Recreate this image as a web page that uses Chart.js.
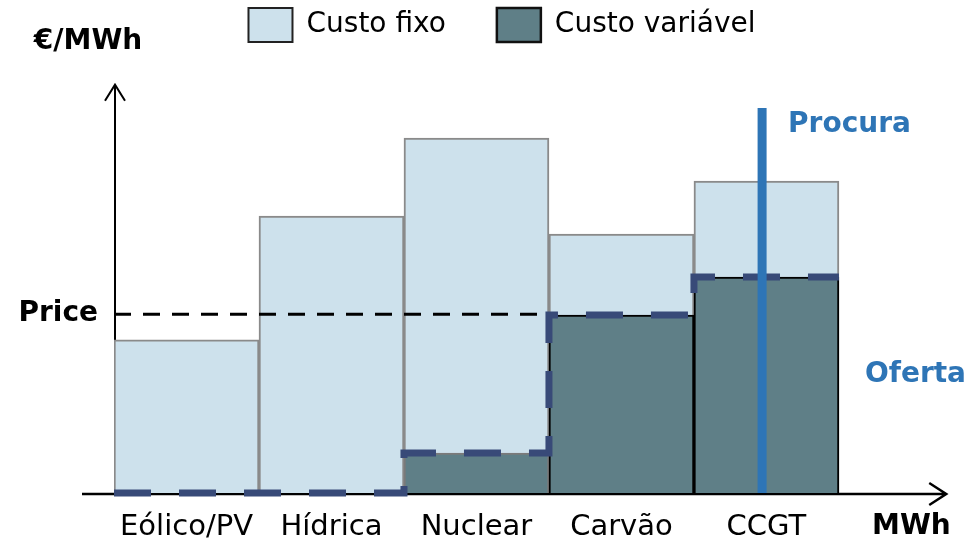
<!DOCTYPE html>
<html lang="pt">
<head>
<meta charset="UTF-8">
<title>Custo fixo e custo variável</title>
<script src="https://cdn.jsdelivr.net/npm/chart.js"></script>
<style>
  html, body { margin: 0; padding: 0; background: #fff; }
  #wrap { width: 979px; height: 546px; }
</style>
</head>
<body>
<div id="wrap"><canvas id="myChart"></canvas></div>
<script>
// values (€/MWh, arbitrary units)
const technologies = ['Eólico/PV', 'Hídrica', 'Nuclear', 'Carvão', 'CCGT'];
const fixedCost = [37.5, 67.8, 86.9, 63.4, 76.4];
const variableCost = [0, 0, 9.8, 43.6, 52.9];
const price = 43.8;
const demandAt = 4.47;      // MWh
const demandTop = 94.3;
const xUnitLabel = 'MWh';
const yUnitLabel = '€/MWh';

const fixedPoints = fixedCost.map((v, i) => ({ x: i + 0.5, y: v }));
const variablePoints = variableCost.map((v, i) => ({ x: i + 0.5, y: v })).filter(p => p.y > 0);

// step supply curve from the variable costs
const supplyPoints = [];
variableCost.forEach((v, i) => {
    supplyPoints.push({ x: i, y: v });
    supplyPoints.push({ x: i + 1, y: v });
});

const tickValues = technologies.map((t, i) => i + 0.5).concat([technologies.length + 0.5]);
const tickLabels = technologies.concat([xUnitLabel]);

const font = 'DejaVu Sans';

const extras = {
    id: 'extras',
    beforeDatasetsDraw(chart) {
        const ctx = chart.ctx;
        const xs = chart.scales.x, ys = chart.scales.y;
        const x0 = xs.getPixelForValue(0);
        const y0 = ys.getPixelForValue(0);
        const yTop = ys.getPixelForValue(100);
        const xEnd = xs.getPixelForValue(5.74);
        ctx.save();
        ctx.strokeStyle = '#000';
        ctx.lineWidth = 2;
        ctx.beginPath();
        ctx.moveTo(x0 + 1, y0);
        ctx.lineTo(x0 + 1, yTop);
        ctx.moveTo(x0 - 9, yTop + 16);
        ctx.lineTo(x0 + 1, yTop);
        ctx.lineTo(x0 + 11, yTop + 16);
        ctx.stroke();
        ctx.lineWidth = 2.5;
        ctx.beginPath();
        ctx.moveTo(x0 - 32, y0 + 1);
        ctx.lineTo(xEnd, y0 + 1);
        ctx.moveTo(xEnd - 17, y0 - 10);
        ctx.lineTo(xEnd, y0 + 1);
        ctx.lineTo(xEnd - 17, y0 + 12);
        ctx.stroke();
        ctx.restore();
    },
    afterDraw(chart) {
        const ctx = chart.ctx;
        const xs = chart.scales.x, ys = chart.scales.y;
        ctx.save();
        ctx.font = 'bold 28px ' + font;
        ctx.textBaseline = 'middle';
        ctx.fillStyle = '#000';
        ctx.textAlign = 'center';
        ctx.fillText(yUnitLabel, xs.getPixelForValue(0) - 26, ys.getPixelForValue(100) - 43);
        ctx.fillStyle = '#2e75b6';
        ctx.textAlign = 'left';
        ctx.fillText('Procura', xs.getPixelForValue(demandAt) + 26, ys.getPixelForValue(demandTop) + 17);
        ctx.fillText('Oferta', xs.getPixelForValue(5) + 26, ys.getPixelForValue(29));
        ctx.restore();
    }
};

new Chart(document.getElementById('myChart'), {
    type: 'bar',
    data: {
        datasets: [
            {
                label: 'Custo fixo',
                data: fixedPoints,
                backgroundColor: '#cde1ec',
                borderColor: '#8a8a8a',
                borderWidth: 2,
                grouped: false,
                barPercentage: 1,
                categoryPercentage: 1,
                order: 5
            },
            {
                label: 'Custo variável',
                data: variablePoints,
                backgroundColor: '#5f7f87',
                borderColor: ['#7a7a7a', '#000', '#000'],
                borderWidth: 2,
                grouped: false,
                barPercentage: 1,
                categoryPercentage: 1,
                order: 4
            },
            {
                type: 'line',
                label: 'Price',
                data: [{ x: 0, y: price }, { x: 3, y: price }],
                borderColor: '#000',
                borderWidth: 3,
                borderDash: [17, 12],
                pointRadius: 0,
                fill: false,
                clip: false,
                order: 3
            },
            {
                type: 'line',
                label: 'Oferta',
                data: supplyPoints,
                borderColor: '#384a78',
                borderWidth: 7,
                borderDash: [37, 28],
                pointRadius: 0,
                fill: false,
                clip: false,
                order: 2
            },
            {
                type: 'line',
                label: 'Procura',
                data: [{ x: demandAt, y: 0 }, { x: demandAt, y: demandTop }],
                borderColor: '#2e75b6',
                borderWidth: 9,
                borderCapStyle: 'butt',
                pointRadius: 0,
                fill: false,
                clip: false,
                order: 1
            }
        ]
    },
    options: {
        responsive: true,
        maintainAspectRatio: false,
        animation: false,
        layout: { padding: { left: 0, right: -25, top: -43, bottom: 0 } },
        plugins: {
            tooltip: { enabled: false },
            legend: {
                position: 'top',
                onClick: null,
                labels: {
                    boxWidth: 44,
                    boxHeight: 34,
                    padding: 51,
                    color: '#000',
                    font: { family: font, size: 28 },
                    generateLabels: () => [
                        { text: 'Custo fixo', fillStyle: '#cde1ec', strokeStyle: '#222', lineWidth: 2, hidden: false, datasetIndex: 0 },
                        { text: 'Custo variável', fillStyle: '#5f7f87', strokeStyle: '#111', lineWidth: 2.5, hidden: false, datasetIndex: 1 }
                    ]
                }
            }
        },
        scales: {
            x: {
                type: 'linear',
                min: 0,
                max: 5.966,
                offset: false,
                grid: { display: false, drawTicks: false },
                border: { display: false },
                afterBuildTicks: scale => { scale.ticks = tickValues.map(v => ({ value: v })); },
                afterFit: scale => { scale.height = 53; },
                ticks: {
                    autoSkip: false,
                    maxRotation: 0,
                    padding: 17,
                    color: '#000',
                    font: c => c.index === 5 ? { family: font, size: 28, weight: 'bold' } : { family: font, size: 29 },
                    callback: (v, i) => tickLabels[i]
                }
            },
            y: {
                min: 0,
                max: 108,
                grid: { display: false, drawTicks: false },
                border: { display: false },
                afterBuildTicks: scale => { scale.ticks = [{ value: price }]; },
                afterFit: scale => { scale.width = 114; },
                ticks: {
                    padding: 16,
                    color: '#000',
                    font: { family: font, size: 28, weight: 'bold' },
                    callback: () => 'Price'
                }
            }
        }
    },
    plugins: [extras]
});
</script>
</body>
</html>
